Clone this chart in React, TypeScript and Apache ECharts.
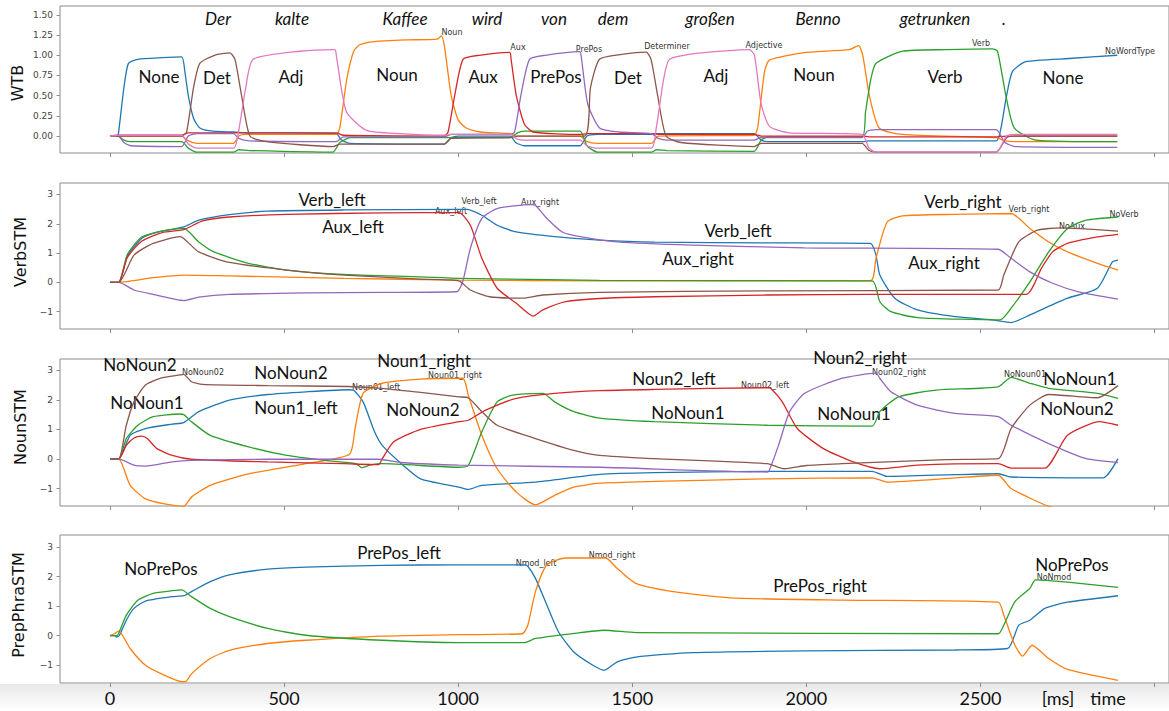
import React, { useEffect, useRef } from "react";
import * as echarts from "echarts";

// ---------- DATA (time [ms], activation) ----------
const xTickLabels = [0, 500, 1000, 1500, 2000, 2500];
const xTickMarks = [0, 500, 1000, 1500, 2000, 2500, 3000];
const wtbTicks = [0, 0.25, 0.5, 0.75, 1.0, 1.25, 1.5];
const stmTicks = [-1, 0, 1, 2, 3];

// WTB panel
const wtbNone = [[0,0],[20,0],[24,0.02],[40,0.6],[53,0.9],[80,0.95],[150,0.97],[206,0.98],[215,0.8],[225,0.5],[240,0.22],[258,0.1],[296,0.06],[354,0.05],[400,0.04],[650,0.03],[665,-0.05],[690,-0.09],[960,-0.1],[980,-0.02],[1000,0.0],[1150,0.0],[1165,-0.08],[1190,-0.12],[1350,-0.12],[1370,0.0],[1400,0.02],[1550,0.02],[1575,0.03],[1850,0.03],[1870,-0.05],[1890,-0.07],[2160,-0.07],[2180,-0.06],[2545,-0.06],[2559,0.1],[2575,0.5],[2592,0.8],[2630,0.92],[2755,0.96],[2893,1.0]];
const wtbNoun = [[0,0],[24,0],[206,0],[225,-0.06],[250,-0.09],[355,-0.09],[370,0.0],[390,0.02],[650,0.02],[660,0.1],[680,0.7],[700,1.05],[717,1.13],[760,1.17],[850,1.19],[940,1.2],[952,1.24],[961,1.1],[980,0.5],[1000,0.2],[1023,0.1],[1062,0.05],[1150,0.03],[1165,0.0],[1350,0.0],[1370,-0.07],[1400,-0.09],[1555,-0.09],[1575,0.0],[1850,0.01],[1860,0.1],[1880,0.8],[1894,0.94],[1989,1.03],[2123,1.07],[2150,1.12],[2162,1.0],[2181,0.5],[2209,0.1],[2276,0.02],[2545,-0.02],[2570,-0.06],[2600,-0.07],[2893,-0.07]];
const wtbVerb = [[0,0],[24,0],[40,-0.05],[60,-0.07],[206,-0.07],[225,-0.15],[250,-0.2],[355,-0.2],[370,-0.17],[400,-0.18],[640,-0.2],[660,-0.08],[690,-0.02],[960,-0.02],[1150,-0.02],[1170,0.04],[1190,0.06],[1350,0.06],[1370,-0.12],[1400,-0.2],[1555,-0.2],[1570,-0.17],[1600,-0.18],[1850,-0.19],[1870,-0.05],[1890,-0.01],[2160,-0.01],[2170,0.3],[2185,0.7],[2200,0.9],[2276,1.05],[2400,1.07],[2535,1.08],[2549,1.05],[2573,0.5],[2597,0.1],[2659,-0.05],[2893,-0.07]];
const wtbAux = [[0,0],[24,0.01],[206,0.01],[225,0.04],[355,0.04],[650,0.04],[670,0.01],[960,0.0],[971,0.05],[990,0.5],[1014,0.95],[1060,1.0],[1148,1.036],[1152,0.95],[1167,0.5],[1190,0.15],[1215,0.05],[1350,0.02],[1370,0.03],[1555,0.03],[1580,0.02],[1850,0.02],[1870,0.0],[2160,0.0],[2180,-0.01],[2550,-0.01],[2580,0.0],[2893,0.0]];
const wtbPrePos = [[0,0],[24,0],[40,-0.08],[60,-0.12],[206,-0.13],[225,0.0],[250,0.03],[355,0.03],[370,-0.03],[400,-0.06],[650,-0.07],[670,-0.01],[960,-0.01],[980,0.02],[1150,0.02],[1162,0.05],[1180,0.5],[1205,0.95],[1250,1.0],[1349,1.044],[1353,1.0],[1372,0.4],[1406,0.1],[1463,0.05],[1555,0.03],[1575,-0.03],[1600,-0.05],[1850,-0.05],[1870,-0.02],[2160,-0.02],[2175,0.06],[2200,0.08],[2545,0.08],[2570,-0.08],[2600,-0.13],[2893,-0.14]];
const wtbDet = [[0,0],[24,0],[206,0],[220,0.05],[240,0.6],[258,0.9],[300,1.0],[344,1.03],[359,0.95],[378,0.5],[402,0.0],[450,-0.07],[641,-0.13],[660,-0.1],[960,-0.1],[980,-0.03],[1150,-0.02],[1170,0.0],[1363,0.0],[1380,0.6],[1406,0.95],[1470,1.01],[1540,1.04],[1554,0.95],[1573,0.5],[1597,0.0],[1640,-0.08],[1850,-0.13],[1870,-0.09],[2160,-0.09],[2180,-0.18],[2200,-0.2],[2545,-0.2],[2575,-0.02],[2600,0.0],[2893,0.0]];
const wtbAdj = [[0,0],[24,0.01],[206,0.01],[225,-0.1],[250,-0.15],[355,-0.15],[371,0.1],[390,0.6],[411,0.95],[545,1.05],[646,1.07],[650,1.0],[679,0.3],[737,0.07],[832,0.03],[960,0.01],[980,0.02],[1150,0.02],[1170,-0.04],[1190,-0.05],[1350,-0.05],[1370,-0.12],[1400,-0.15],[1555,-0.15],[1569,0.1],[1590,0.7],[1607,0.95],[1700,1.03],[1836,1.07],[1851,1.0],[1870,0.4],[1894,0.12],[1950,0.04],[2160,0.02],[2180,-0.15],[2200,-0.2],[2545,-0.2],[2575,0.0],[2600,0.02],[2893,0.02]];

// VerbSTM panel
const verbLeft = [[0,0],[25,0],[50,0.9],[91,1.5],[130,1.7],[179,1.81],[212,1.89],[255,2.12],[343,2.31],[453,2.43],[672,2.47],[1002,2.49],[1024,2.49],[1068,2.29],[1112,1.95],[1167,1.72],[1277,1.56],[1406,1.44],[1564,1.37],[1888,1.35],[2184,1.33],[2200,0.93],[2211,0.25],[2254,-0.54],[2319,-0.94],[2427,-1.17],[2534,-1.28],[2588,-1.37],[2642,-1.11],[2750,-0.54],[2836,-0.2],[2879,0.7],[2895,0.76]];
const auxLeft = [[0,0],[25,0],[50,0.85],[91,1.4],[150,1.7],[212,1.8],[266,2.1],[343,2.23],[508,2.32],[782,2.37],[1002,2.38],[1035,1.95],[1068,0.82],[1112,-0.2],[1167,-0.71],[1216,-1.15],[1243,-0.94],[1309,-0.66],[1406,-0.55],[1564,-0.49],[1888,-0.43],[2184,-0.41],[2631,-0.41],[2675,0.48],[2707,1.04],[2750,1.33],[2836,1.55],[2895,1.64]];
const noVerb = [[0,0],[25,0],[50,0.95],[91,1.55],[150,1.75],[212,1.84],[255,1.38],[299,1.04],[398,0.65],[508,0.42],[672,0.27],[892,0.19],[1002,0.14],[1406,0.07],[2189,0.05],[2211,-0.66],[2243,-1.0],[2319,-1.2],[2556,-1.28],[2588,-0.88],[2642,0.02],[2696,1.04],[2750,1.84],[2804,2.12],[2895,2.23]];
const noAux = [[0,0],[25,0],[69,0.93],[124,1.33],[201,1.56],[212,1.5],[255,1.04],[343,0.68],[508,0.42],[672,0.25],[892,0.11],[1002,0.05],[1035,-0.26],[1090,-0.49],[1188,-0.54],[1243,-0.43],[1406,-0.34],[1888,-0.29],[2551,-0.26],[2567,0.25],[2610,1.38],[2664,1.78],[2729,1.86],[2895,1.75]];
const verbRight = [[0,0],[25,0],[124,0.16],[212,0.25],[343,0.22],[672,0.14],[1002,0.08],[1406,0.05],[2184,0.05],[2200,0.82],[2232,2.06],[2276,2.27],[2427,2.32],[2588,2.35],[2642,1.84],[2696,1.38],[2750,1.04],[2836,0.65],[2895,0.42]];
const auxRight = [[0,0],[25,0],[69,-0.26],[124,-0.41],[212,-0.62],[255,-0.5],[343,-0.41],[563,-0.36],[782,-0.34],[996,-0.32],[1013,0.02],[1035,1.16],[1068,2.18],[1112,2.52],[1211,2.65],[1222,2.63],[1255,2.18],[1299,1.72],[1354,1.55],[1456,1.38],[1672,1.27],[1995,1.18],[2551,1.13],[2588,0.82],[2642,0.36],[2707,-0.03],[2782,-0.32],[2895,-0.57]];

// NounSTM panel
const noNoun2 = [[0,0],[25,0],[47,1.14],[69,1.93],[102,2.5],[146,2.73],[201,2.84],[212,2.86],[234,2.61],[266,2.52],[453,2.48],[684,2.45],[782,2.39],[892,2.25],[1002,2.1],[1029,2.07],[1068,1.6],[1112,1.14],[1222,0.69],[1332,0.29],[1406,0.12],[1564,0.01],[1888,-0.16],[1936,-0.33],[2000,-0.22],[2103,-0.16],[2400,-0.02],[2551,0.01],[2588,1.03],[2642,1.82],[2696,2.18],[2836,2.07],[2895,2.48]];
const noNoun1 = [[0,0],[25,0],[47,0.69],[80,1.14],[124,1.43],[201,1.52],[212,1.5],[234,1.26],[288,0.8],[398,0.41],[508,0.12],[618,-0.05],[706,-0.16],[722,-0.29],[749,-0.2],[782,-0.16],[1002,-0.28],[1029,-0.22],[1068,0.92],[1112,1.93],[1156,2.16],[1244,2.22],[1277,1.93],[1332,1.6],[1406,1.38],[1564,1.26],[1888,1.14],[2189,1.11],[2211,1.6],[2265,2.1],[2373,2.33],[2551,2.44],[2588,2.76],[2642,2.56],[2696,2.39],[2836,2.22],[2895,2.05]];
const noun1Left = [[0,0],[25,0],[58,0.8],[102,1.03],[179,1.18],[212,1.23],[255,1.6],[343,1.99],[453,2.18],[563,2.27],[688,2.34],[699,2.33],[727,1.93],[760,0.92],[782,0.46],[837,-0.16],[892,-0.67],[1002,-0.95],[1029,-1.03],[1068,-0.89],[1222,-0.78],[1406,-0.52],[1564,-0.46],[1888,-0.42],[2189,-0.42],[2232,-0.59],[2427,-0.53],[2551,-0.5],[2588,-0.61],[2852,-0.64],[2895,0.01]];
const noun2Left = [[0,0],[25,0],[47,0.46],[69,0.71],[91,0.77],[107,0.69],[135,0.35],[179,0.12],[234,-0.01],[453,-0.1],[672,-0.16],[771,-0.19],[782,0.01],[815,0.58],[892,1.0],[1002,1.26],[1029,1.31],[1079,1.65],[1167,2.05],[1277,2.22],[1406,2.31],[1564,2.35],[1888,2.41],[1898,2.38],[1931,1.93],[1974,1.03],[2049,0.35],[2135,-0.1],[2211,-0.33],[2319,-0.21],[2551,-0.16],[2588,-0.31],[2685,-0.31],[2750,0.8],[2842,1.26],[2895,1.14]];
const noun1Right = [[0,0],[25,0],[58,-0.89],[102,-1.35],[157,-1.52],[212,-1.6],[234,-1.29],[288,-0.89],[398,-0.5],[563,-0.16],[688,0.16],[704,1.03],[727,2.22],[782,2.56],[892,2.7],[1013,2.73],[1029,2.16],[1068,0.8],[1112,-0.33],[1167,-1.12],[1222,-1.55],[1277,-1.23],[1332,-0.95],[1406,-0.82],[1564,-0.76],[1888,-0.67],[2189,-0.64],[2232,-0.78],[2427,-0.64],[2551,-0.55],[2588,-1.0],[2696,-1.6],[2895,-2.3]];
const noun2Right = [[0,0],[25,0],[69,-0.21],[102,-0.24],[179,-0.1],[234,-0.05],[453,-0.01],[771,-0.01],[837,-0.12],[1002,-0.21],[1406,-0.28],[1888,-0.44],[1893,-0.4],[1920,0.46],[1952,1.6],[1995,2.22],[2103,2.73],[2200,2.9],[2211,2.73],[2243,2.27],[2319,1.82],[2427,1.54],[2551,1.43],[2588,1.14],[2696,0.52],[2804,0.01],[2895,-0.12]];

// PrepPhraSTM panel
const prePosLeft = [[0,0],[14,0],[19,-0.05],[27,0.0],[47,0.52],[69,0.92],[102,1.17],[179,1.32],[212,1.35],[234,1.49],[288,1.83],[343,2.06],[453,2.25],[563,2.32],[782,2.38],[1002,2.4],[1190,2.4],[1200,2.35],[1222,1.94],[1255,1.03],[1288,0.13],[1332,-0.56],[1387,-1.01],[1419,-1.18],[1456,-0.9],[1510,-0.73],[1672,-0.58],[1995,-0.52],[2427,-0.49],[2578,-0.44],[2610,0.35],[2642,0.52],[2685,0.92],[2750,1.13],[2895,1.35]];
const noPrePos = [[0,0],[20,0],[25,0.07],[47,0.69],[80,1.2],[124,1.43],[179,1.52],[206,1.55],[234,1.32],[288,0.92],[343,0.64],[453,0.24],[563,0.01],[782,-0.16],[1002,-0.24],[1190,-0.24],[1222,-0.1],[1332,0.07],[1419,0.18],[1510,0.1],[2551,0.06],[2567,0.35],[2599,1.15],[2642,1.6],[2658,1.89],[2750,1.81],[2895,1.63]];
const prePosRight = [[0,0],[14,0.07],[25,0.15],[36,0.01],[58,-0.44],[102,-1.01],[157,-1.35],[206,-1.56],[217,-1.56],[234,-1.3],[288,-0.78],[343,-0.5],[453,-0.27],[563,-0.16],[782,-0.02],[1002,0.03],[1184,0.06],[1200,0.35],[1222,1.49],[1255,2.4],[1310,2.63],[1424,2.63],[1456,2.28],[1510,1.77],[1618,1.49],[1780,1.28],[2103,1.2],[2551,1.13],[2567,0.69],[2599,-0.33],[2621,-0.7],[2648,-0.33],[2696,-0.78],[2750,-1.15],[2895,-1.52]];

const panelNames = ["WTB", "VerbSTM", "NounSTM", "PrepPhraSTM"];
const sentenceWords = ["Der", "kalte", "Kaffee", "wird", "von", "dem", "großen", "Benno", "getrunken", "."];

// ---------- STYLE ----------
const C = { blue: "#1f77b4", orange: "#ff7f0e", green: "#2ca02c", red: "#d62728", purple: "#9467bd", brown: "#8c564b", pink: "#e377c2" };
const SPINE = "#8c8c8c";
const BIG = "Lato, 'Open Sans', sans-serif";
const MPL = "'DejaVu Sans', sans-serif";

const grids = [
  { top: 6, height: 147, min: -0.21, max: 1.61 },
  { top: 183, height: 146, min: -1.59, max: 3.39 },
  { top: 359, height: 147, min: -1.59, max: 3.38 },
  { top: 535, height: 148, min: -1.61, max: 3.41 },
];

export default function App() {
  const ref = useRef<HTMLDivElement>(null);
  useEffect(() => {
    if (!ref.current) return;
    const chart = echarts.init(ref.current, null, { renderer: "svg" });

    const seriesDefs: [number[][], string, number][] = [
      [wtbNone, C.blue, 0], [wtbNoun, C.orange, 0], [wtbVerb, C.green, 0], [wtbAux, C.red, 0],
      [wtbPrePos, C.purple, 0], [wtbDet, C.brown, 0], [wtbAdj, C.pink, 0],
      [verbLeft, C.blue, 1], [verbRight, C.orange, 1], [noVerb, C.green, 1], [auxLeft, C.red, 1],
      [auxRight, C.purple, 1], [noAux, C.brown, 1],
      [noun1Left, C.blue, 2], [noun1Right, C.orange, 2], [noNoun1, C.green, 2], [noun2Left, C.red, 2],
      [noun2Right, C.purple, 2], [noNoun2, C.brown, 2],
      [prePosLeft, C.blue, 3], [prePosRight, C.orange, 3], [noPrePos, C.green, 3],
    ];

    const txt = (text: string, x: number, y: number, size: number, extra: any = {}) => ({
      type: "text", x, y, silent: true,
      style: { text, fontSize: size, fontFamily: extra.family || BIG, fontStyle: extra.italic ? "italic" : "normal",
        fill: extra.fill || "#111", textAlign: "center", textVerticalAlign: "middle" },
      rotation: extra.rotation || 0,
    });
    const sm = (text: string, x: number, y: number) => txt(text, x, y, 8, { family: MPL, fill: "#333" });

    const wordX = [218, 292, 405, 487, 554, 613, 710, 818, 935, 1004];
    const graphics: any[] = [
      { type: "rect", shape: { x: 0, y: 684, width: 1169, height: 27 }, silent: true, z: -1,
        style: { fill: new echarts.graphic.LinearGradient(0, 0, 0, 1, [
          { offset: 0, color: "rgba(0,0,0,0.09)" }, { offset: 1, color: "rgba(0,0,0,0)" }]) } },
      ...sentenceWords.map((w, i) => txt(w, wordX[i], 18, 17, { italic: true })),
      // y-axis names
      txt(panelNames[0], 17, 83, 16, { family: MPL, rotation: Math.PI / 2 }),
      txt(panelNames[1], 20, 252, 16, { family: MPL, rotation: Math.PI / 2 }),
      txt(panelNames[2], 20, 427, 16, { family: MPL, rotation: Math.PI / 2 }),
      txt(panelNames[3], 18, 605, 16, { family: MPL, rotation: Math.PI / 2 }),
      // WTB labels
      txt("None", 159, 76, 17), txt("Det", 217, 77, 17), txt("Adj", 291, 76, 17), txt("Noun", 397, 74, 17),
      txt("Aux", 483, 76, 17), txt("PrePos", 556, 76, 17), txt("Det", 628, 77, 17), txt("Adj", 716, 75, 17),
      txt("Noun", 814, 74, 17), txt("Verb", 945, 76, 17), txt("None", 1063, 77, 17),
      sm("Noun", 452, 32), sm("Aux", 518, 47), sm("PrePos", 589, 49), sm("Determiner", 667, 46),
      sm("Adjective", 764, 45), sm("Verb", 981, 43), sm("NoWordType", 1130, 51),
      // VerbSTM labels
      txt("Verb_left", 332, 199, 17), txt("Aux_left", 353, 226, 17), txt("Verb_left", 738, 230, 17),
      txt("Aux_right", 698, 258, 17), txt("Verb_right", 963, 201, 17), txt("Aux_right", 944, 262, 17),
      sm("Aux_left", 451, 211), sm("Verb_left", 479, 201), sm("Aux_right", 540, 202),
      sm("Verb_right", 1029, 209), sm("NoAux", 1072, 226), sm("NoVerb", 1124, 214),
      // NounSTM labels
      txt("NoNoun2", 140, 364, 17), txt("NoNoun1", 147, 402, 17), txt("NoNoun2", 291, 372, 17),
      txt("Noun1_left", 296, 407, 17), txt("Noun1_right", 424, 360, 17), txt("NoNoun2", 423, 409, 17),
      txt("Noun2_left", 674, 378, 17), txt("NoNoun1", 688, 412, 17), txt("Noun2_right", 860, 357, 17),
      txt("NoNoun1", 854, 413, 17), txt("NoNoun1", 1080, 378, 17), txt("NoNoun2", 1077, 408, 17),
      sm("NoNoun02", 203, 372), sm("Noun01_left", 376, 387), sm("Noun01_right", 455, 375),
      sm("Noun02_left", 765, 385), sm("Noun02_right", 899, 372), sm("NoNoun01", 1025, 374),
      // PrepPhraSTM labels
      txt("NoPrePos", 161, 568, 17), txt("PrePos_left", 399, 552, 17), txt("PrePos_right", 820, 585, 17),
      txt("NoPrePos", 1072, 564, 17),
      sm("Nmod_left", 536, 563), sm("Nmod_right", 612, 555), sm("NoNmod", 1054, 577),
      // axis unit
      txt("[ms]", 1058, 698, 18), txt("time", 1108, 698, 18),
    ];

    chart.setOption({
      animation: false,
      backgroundColor: "#fff",
      grid: grids.map((g) => ({ left: 60, width: 1110, top: g.top, height: g.height, show: true,
        borderColor: SPINE, borderWidth: 1, backgroundColor: "transparent", containLabel: false })),
      xAxis: grids.map((_, i) => ({
        type: "value", gridIndex: i, min: -143.5, max: 3041.5, position: "bottom",
        axisLine: { show: false, onZero: false }, splitLine: { show: false },
        axisTick: { show: true, length: 4, customValues: xTickMarks, lineStyle: { color: SPINE } },
        axisLabel: { show: i === 3, customValues: xTickLabels, margin: 6, fontSize: 18, fontFamily: BIG, color: "#111",
          formatter: (v: number) => String(v) },
      })),
      yAxis: grids.map((g, i) => ({
        type: "value", gridIndex: i, min: g.min, max: g.max, position: "left",
        axisLine: { show: false, onZero: false }, splitLine: { show: false },
        axisTick: { show: true, length: 3.5, customValues: i === 0 ? wtbTicks : stmTicks, lineStyle: { color: SPINE } },
        axisLabel: { show: true, customValues: i === 0 ? wtbTicks : stmTicks, margin: 7, fontSize: 9, fontFamily: MPL, color: "#444",
          formatter: (v: number) => (i === 0 ? v.toFixed(2) : (v < 0 ? "\u2212" + Math.abs(v) : String(v))) },
      })),
      series: seriesDefs.map(([data, color, gi]) => ({
        type: "line", xAxisIndex: gi, yAxisIndex: gi, data, showSymbol: false, symbol: "none",
        smooth: 0.2, clip: true, lineStyle: { color, width: 1.3 }, itemStyle: { color }, silent: true,
      })),
      graphic: graphics,
    });
    return () => chart.dispose();
  }, []);
  return <div ref={ref} style={{ position: "absolute", left: 0, top: 0, width: 1169, height: 711, background: "#fff" }} />;
}
